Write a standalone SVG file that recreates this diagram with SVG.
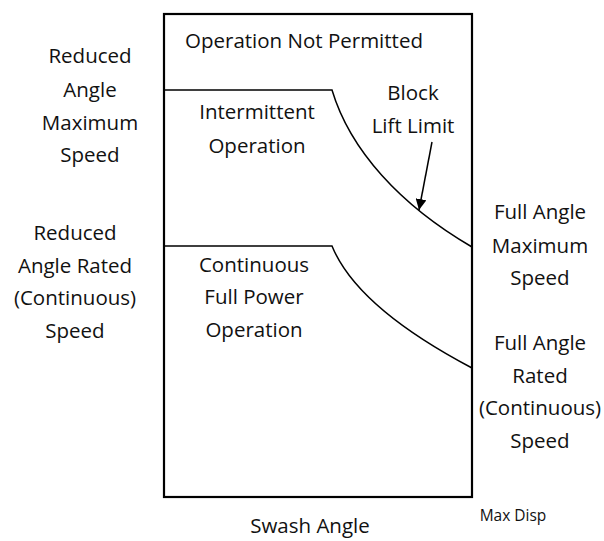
<svg xmlns="http://www.w3.org/2000/svg" width="604" height="541" viewBox="0 0 604 541">
<defs>
<style>
text{font-family:"Open Sans","Liberation Sans",sans-serif;font-size:20.5px;fill:#111;text-anchor:middle}
.small{font-size:15.5px}
.ln{fill:none;stroke:#000;stroke-width:1.5}
</style>
<marker id="ah" viewBox="0 0 10 10" refX="10" refY="5" markerWidth="11" markerHeight="11" markerUnits="userSpaceOnUse" orient="auto"><path d="M0,0 L10,5 L0,10 z" fill="#000"/></marker>
</defs>
<rect x="0" y="0" width="604" height="541" fill="#fff"/>
<g id="chart">
<rect x="164" y="14" width="308" height="483" fill="none" stroke="#000" stroke-width="2.2"/>
</g>
<g id="connectors">
<path class="ln" d="M164,90 H332 C350,150 400,205 472,247"/>
<path class="ln" d="M164,246 H332 C350,290 400,330 472,368"/>
<line x1="432" y1="142" x2="419" y2="210" stroke="#000" stroke-width="1.5" marker-end="url(#ah)"/>
</g>
<g id="labels-inside">
<text x="304" y="48">Operation Not Permitted</text>
<text x="413" y="100">Block</text>
<text x="413" y="133">Lift Limit</text>
<text x="257" y="119">Intermittent</text>
<text x="257" y="153">Operation</text>
<text x="254" y="272">Continuous</text>
<text x="254" y="304">Full Power</text>
<text x="254" y="337">Operation</text>
</g>
<g id="labels-left">
<text x="90" y="63">Reduced</text>
<text x="90" y="97">Angle</text>
<text x="90" y="130">Maximum</text>
<text x="90" y="162">Speed</text>
<text x="75" y="240">Reduced</text>
<text x="75" y="273">Angle Rated</text>
<text x="75" y="305">(Continuous)</text>
<text x="75" y="338">Speed</text>
</g>
<g id="labels-right">
<text x="540" y="219">Full Angle</text>
<text x="540" y="253">Maximum</text>
<text x="540" y="285">Speed</text>
<text x="540" y="350">Full Angle</text>
<text x="540" y="383">Rated</text>
<text x="540" y="415">(Continuous)</text>
<text x="540" y="448">Speed</text>
</g>
<g id="axis">
<text x="310" y="533">Swash Angle</text>
<text class="small" x="513" y="521">Max Disp</text>
</g>
</svg>
